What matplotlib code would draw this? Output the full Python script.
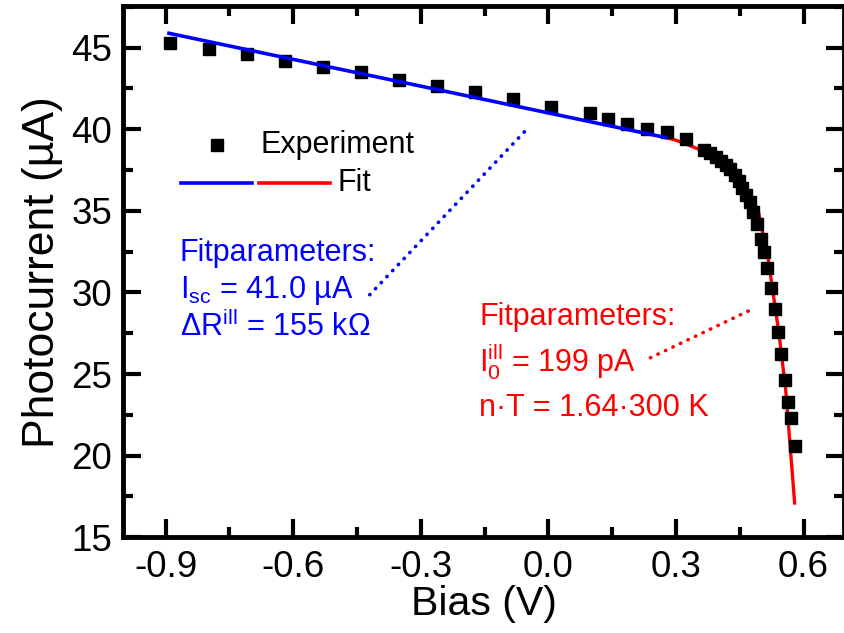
import matplotlib
matplotlib.use("Agg")
import matplotlib.pyplot as plt
from matplotlib.ticker import MultipleLocator

plt.rcParams['font.family'] = ['Liberation Sans', 'DejaVu Sans']
plt.rcParams['mathtext.fontset'] = 'custom'
plt.rcParams['mathtext.rm'] = 'Liberation Sans'
plt.rcParams['mathtext.it'] = 'Liberation Sans'

# measured photocurrent
bias_exp = [-0.889, -0.799, -0.709, -0.620, -0.530, -0.441, -0.351, -0.262, -0.172, -0.082,
            0.007, 0.097, 0.141, 0.186, 0.233, 0.278, 0.323,
            0.367, 0.381, 0.394, 0.407, 0.418, 0.428, 0.438, 0.448, 0.456, 0.465, 0.473,
            0.481, 0.490, 0.499, 0.507, 0.515, 0.523, 0.532, 0.540, 0.548, 0.556, 0.563,
            0.570, 0.579]
current_exp = [45.27, 44.90, 44.61, 44.19, 43.82, 43.51, 43.02, 42.64, 42.29, 41.84,
               41.37, 40.98, 40.63, 40.33, 40.02, 39.84, 39.41,
               38.74, 38.54, 38.33, 38.07, 37.82, 37.56, 37.21, 36.80, 36.43, 35.98, 35.57,
               34.92, 34.19, 33.29, 32.45, 31.47, 30.25, 28.96, 27.58, 26.25, 24.62, 23.27,
               22.29, 20.61]

# linear part of the fit
fit_lin_bias = [-0.892, 0.276]
fit_lin_current = [45.88, 39.49]

# diode part of the fit
fit_diode_bias = [0.276, 0.30, 0.338, 0.37, 0.40, 0.43, 0.45, 0.47, 0.493, 0.517,
                  0.542, 0.558, 0.579]
fit_diode_current = [39.49, 39.33, 38.94, 38.6, 38.2, 37.55, 36.9, 36.1, 35.06, 32.0,
                     27.51, 24.04, 17.1]

blue = '#0000ff'
red = '#ff0000'
dots = (0, (0.1, 2.2))

fig = plt.figure(figsize=(8.45, 6.33), dpi=100)
ax = fig.add_axes([0.1456, 0.1512, 0.8532, 0.8393])

ax.plot(fit_diode_bias, fit_diode_current, color=red, lw=2.4, zorder=2)
ax.plot(bias_exp, current_exp, 's', color='black', ms=9, zorder=3)
ax.plot(fit_lin_bias, fit_lin_current, color=blue, lw=2.6, zorder=4)

ax.set_xlim(-1.0, 0.695)
ax.set_ylim(15, 47.55)
ax.xaxis.set_major_locator(MultipleLocator(0.3))
ax.xaxis.set_minor_locator(MultipleLocator(0.15))
ax.yaxis.set_major_locator(MultipleLocator(5))
ax.yaxis.set_minor_locator(MultipleLocator(2.5))
ax.set_xticks([-0.9, -0.6, -0.3, 0.0, 0.3, 0.6])
ax.set_xticklabels(['-0.9', '-0.6', '-0.3', '0.0', '0.3', '0.6'])

for s in ax.spines.values():
    s.set_linewidth(3.5)
ax.tick_params(which='both', direction='in', top=True, right=True, width=3, labelsize=26.5)
ax.tick_params(which='major', length=13)
ax.tick_params(which='minor', length=7.5)
ax.tick_params(axis='x', pad=9)
ax.tick_params(axis='y', pad=8)

ax.set_xlabel('Bias (V)', fontsize=29.5, labelpad=0)
ax.set_ylabel('Photocurrent (µA)', fontsize=32, labelpad=6)

# legend drawn by hand
ax.plot([0.130], [0.738], 's', color='black', ms=9, transform=ax.transAxes)
ax.text(0.191, 0.738, 'Experiment', fontsize=22, va='center', transform=ax.transAxes)
ax.plot([0.080, 0.179], [0.667, 0.667], color=blue, lw=2.6, transform=ax.transAxes)
ax.plot([0.189, 0.287], [0.667, 0.667], color=red, lw=2.6, transform=ax.transAxes)
ax.text(0.298, 0.667, 'Fit', fontsize=22, va='center', transform=ax.transAxes)

# fit parameters
ax.text(-0.867, 32.43, 'Fitparameters:', color=blue, fontsize=22, va='center')
ax.text(-0.867, 30.1, r'$\mathrm{I_{sc}}$ = 41.0 µA', color=blue, fontsize=22, va='center')
ax.text(-0.867, 27.9, r'ΔR$^{\mathrm{ill}}$ = 155 kΩ', color=blue, fontsize=22, va='center')
ax.plot([-0.420, -0.052], [29.86, 39.96], color=blue, lw=2.6, ls=dots,
        dash_capstyle='round')

ax.text(-0.163, 28.51, 'Fitparameters:', color=red, fontsize=22, va='center')
ax.text(-0.163, 25.75, r'$\mathrm{I_0^{ill}}$ = 199 pA', color=red, fontsize=22, va='center')
ax.text(-0.163, 22.94, 'n·T = 1.64·300 K', color=red, fontsize=22, va='center')
ax.plot([0.240, 0.481], [26.0, 29.0], color=red, lw=2.6, ls=dots,
        dash_capstyle='round')

fig.savefig('out.png', dpi=100)
